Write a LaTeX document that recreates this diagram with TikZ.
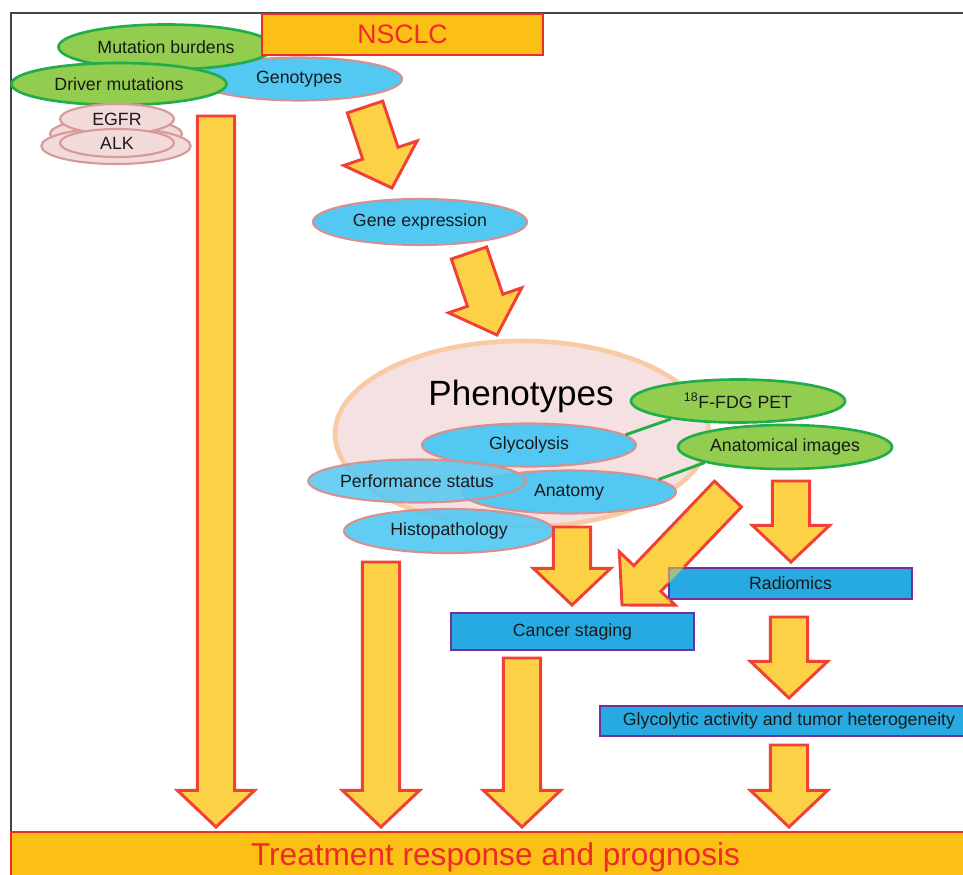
\documentclass[tikz,border=0pt]{standalone}
\usepackage{fontspec}
\setmainfont{Liberation Sans}
\usetikzlibrary{calc,shapes.geometric}

\definecolor{nsclcfill}{HTML}{FBBF16}
\definecolor{redline}{HTML}{EE2B26}
\definecolor{arrowfill}{HTML}{FCD146}
\definecolor{arrowline}{HTML}{EF4136}
\definecolor{greenfill}{HTML}{92CD50}
\definecolor{greenline}{HTML}{22AD4A}
\definecolor{bluefill}{HTML}{52C8F2}
\definecolor{blueline}{HTML}{D4918F}
\definecolor{pinkfill}{HTML}{F3DADA}
\definecolor{pinkline}{HTML}{D59A9A}
\definecolor{phenofill}{HTML}{F5E1E1}
\definecolor{phenoline}{HTML}{F8CBA5}
\definecolor{boxfill}{HTML}{27AAE1}
\definecolor{boxline}{HTML}{7030A0}
\definecolor{txt}{HTML}{1A1A1A}
\definecolor{framecol}{HTML}{444444}

\tikzset{
 ell/.style={ellipse, inner sep=0pt, text=txt, font=\fontsize{13.3}{16}\selectfont},
 greenell/.style={ell, fill=greenfill, draw=greenline, line width=2pt},
 blueell/.style={ell, fill=bluefill, draw=blueline, line width=1.6pt},
 pinkell/.style={ell, fill=pinkfill, draw=pinkline, line width=1.6pt},
 bluebox/.style={rectangle, inner sep=0pt, fill=boxfill, draw=boxline, line width=2.2pt, text=txt, font=\fontsize{13.3}{16}\selectfont},
 orangebox/.style={rectangle, inner sep=0pt, fill=nsclcfill, draw=redline, line width=2.2pt, text=redline},
 barrow/.style={fill=arrowfill, draw=arrowline, line width=2.2pt, line join=miter},
 gline/.style={draw=greenline, line width=2.2pt},
 esz/.style={minimum width=160.5pt, minimum height=32.25pt},
}

\newcommand\blockarrow[3][]{%
  \coordinate (ba-b) at ($(#3)!27.5pt!(#2)$);
  \draw[barrow,#1] ($(#2)!14pt!90:(#3)$) -- ($(ba-b)!14pt!90:(#3)$) -- ($(ba-b)!29pt!90:(#3)$) -- (#3) -- ($(ba-b)!29pt!-90:(#3)$) -- ($(ba-b)!14pt!-90:(#3)$) -- ($(#2)!14pt!-90:(#3)$) -- cycle;}

\begin{document}
\begin{tikzpicture}[x=0.75pt,y=-0.75pt]
\useasboundingbox (0,0) rectangle (963,874);
\fill[white] (0,0) rectangle (963,874);
\draw[framecol, line width=0.8pt] (11,874) -- (11,13) -- (963,13);

% top-left cluster
\node[blueell, minimum width=154.5pt, minimum height=32.25pt] (geno) at (299,79) {Genotypes};
\node[greenell, minimum width=161.25pt, minimum height=33.75pt] (mut) at (166,47) {Mutation burdens};
\node[greenell, minimum width=161.25pt, minimum height=31.5pt] (drv) at (119,84) {Driver mutations};
\node[pinkell, minimum width=99pt, minimum height=24pt] (pkA) at (116,134) {};
\node[pinkell, minimum width=112pt, minimum height=27pt] (pkB) at (116,146) {};
\node[pinkell, minimum width=85.5pt, minimum height=22.5pt] (egfr) at (117,119) {EGFR};
\node[pinkell, minimum width=85.5pt, minimum height=21pt] (alk) at (117,143) {ALK};
\node[orangebox, minimum width=210.75pt, minimum height=30.75pt, font=\fontsize{20}{24}\selectfont] (nsclc) at (402.5,34.5) {NSCLC};

% gene expression
\node[blueell, minimum width=160.5pt, minimum height=34.5pt] (gexp) at (420,222) {Gene expression};

% phenotypes
\node[ellipse, fill=phenofill, draw=phenoline, line width=3.5pt, minimum width=280.5pt, minimum height=139.5pt, inner sep=0pt] (pheno) at (522,434) {};
\node[anchor=base, text=black, font=\fontsize{26.3}{30}\selectfont, inner sep=0pt] (phenotxt) at (521,405) {Phenotypes};
\node[blueell, esz] (gly) at (529,445) {Glycolysis};
\node[blueell, esz] (anat) at (569,492) {Anatomy};
\node[blueell, esz, fill opacity=0.85, text opacity=1] (perf) at (417,481) {Performance status};
\node[blueell, minimum width=157.5pt, minimum height=33pt, fill opacity=0.9, text opacity=1] (histo) at (449,531) {Histopathology};
\node[greenell, esz] (fdg) at (738,401) {\textsuperscript{18}F-FDG PET};
\node[greenell, esz, minimum height=33pt] (anaimg) at (785,447) {Anatomical images};
\draw[gline] (gly.6) -- (fdg.195);
\draw[gline] (anat.8) -- (anaimg.191);

% boxes
\node[bluebox, minimum width=182.25pt, minimum height=27.75pt] (stage) at (572.5,631.5) {Cancer staging};
\node[bluebox, minimum width=283.5pt, minimum height=22.5pt] (glyact) at (789,721) {Glycolytic activity and tumor heterogeneity};
\node[orangebox, minimum width=726.75pt, minimum height=37.5pt, font=\fontsize{23.7}{28}\selectfont] (resp) at (495.5,857) {Treatment response and prognosis};

% arrow end points
\coordinate (a1s) at (216,116);  \coordinate (a1t) at (216,827);
\coordinate (a2s) at (365,107);  \coordinate (a2t) at (392,188);
\coordinate (a3s) at (469,253);  \coordinate (a3t) at (497,335);
\coordinate (a4s) at (381,562);  \coordinate (a4t) at (381,827);
\coordinate (a5s) at (572,527);  \coordinate (a5t) at (572,605);
\coordinate (a6s) at (728,494);  \coordinate (a6t) at (622,605);
\coordinate (a7s) at (791,481);  \coordinate (a7t) at (791,562);
\coordinate (a8s) at (522,658);  \coordinate (a8t) at (522,827);
\coordinate (a9s) at (789,617);  \coordinate (a9t) at (789,698);
\coordinate (a10s) at (789,745); \coordinate (a10t) at (789,827);

\blockarrow{a1s}{a1t}
\blockarrow{a2s}{a2t}
\blockarrow{a3s}{a3t}
\blockarrow{a4s}{a4t}
\blockarrow{a5s}{a5t}
\blockarrow{a6s}{a6t}
\blockarrow{a7s}{a7t}
\blockarrow{a8s}{a8t}
\blockarrow{a9s}{a9t}
\blockarrow{a10s}{a10t}

\node[bluebox, minimum width=182.25pt, minimum height=23.25pt] (radio) at (790.5,583.5) {Radiomics};
\begin{scope}
  \clip (radio.north west) rectangle (radio.south east);
  \blockarrow[fill opacity=0.55, draw=none]{a6s}{a6t}
\end{scope}
\end{tikzpicture}
\end{document}
